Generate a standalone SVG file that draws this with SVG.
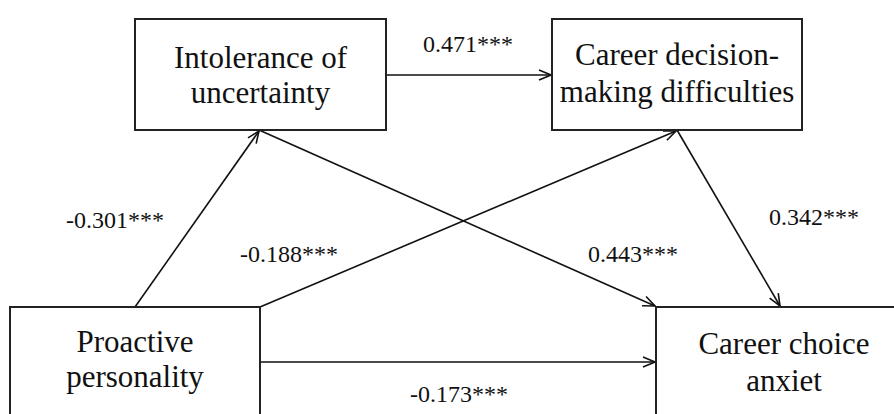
<svg xmlns="http://www.w3.org/2000/svg" width="894" height="414" viewBox="0 0 894 414">
<style>
.box{fill:#fff;stroke:#222;stroke-width:2}
.nt{font-family:"Liberation Serif","Times New Roman",serif;font-size:31px;fill:#111;text-anchor:middle}
.lb{font-family:"Liberation Serif","Times New Roman",serif;font-size:24px;fill:#111}
.ln{stroke:#111;stroke-width:1.6;fill:none;marker-end:url(#ah)}
</style>
<defs>
<marker id="ah" viewBox="0 0 14 12" refX="13" refY="6" markerWidth="14" markerHeight="12" markerUnits="userSpaceOnUse" orient="auto">
<path d="M1,1 L13,6 L1,11" fill="none" stroke="#111" stroke-width="1.6"/>
</marker>
</defs>
<rect width="894" height="414" fill="#fff"/>
<g id="connectors">
<line class="ln" x1="386" y1="75" x2="551" y2="75"/>
<line class="ln" x1="135" y1="307" x2="259" y2="131"/>
<line class="ln" x1="260" y1="307" x2="676" y2="131"/>
<line class="ln" x1="259" y1="130" x2="655" y2="306"/>
<line class="ln" x1="677" y1="130" x2="780" y2="306"/>
<line class="ln" x1="260" y1="362" x2="655" y2="362"/>
</g>
<g id="labels">
<text class="lb" x="423" y="52">0.471***</text>
<text class="lb" x="66" y="228">-0.301***</text>
<text class="lb" x="240" y="262">-0.188***</text>
<text class="lb" x="588" y="262">0.443***</text>
<text class="lb" x="769" y="225">0.342***</text>
<text class="lb" x="410" y="402">-0.173***</text>
</g>
<g id="intolerance">
<rect class="box" x="135" y="19" width="251" height="111"/>
<text class="nt" x="260.5" y="68">Intolerance of</text>
<text class="nt" x="260.5" y="103">uncertainty</text>
</g>
<g id="decision">
<rect class="box" x="552" y="19" width="250" height="111"/>
<text class="nt" x="677" y="65">Career decision-</text>
<text class="nt" x="677" y="102">making difficulties</text>
</g>
<g id="proactive">
<rect class="box" x="10" y="307" width="250" height="120"/>
<text class="nt" x="135" y="352">Proactive</text>
<text class="nt" x="135" y="387">personality</text>
</g>
<g id="anxiety">
<rect class="box" x="656" y="307" width="250" height="120"/>
<text class="nt" x="784" y="354">Career choice</text>
<text class="nt" x="784" y="391">anxiet</text>
</g>
</svg>
